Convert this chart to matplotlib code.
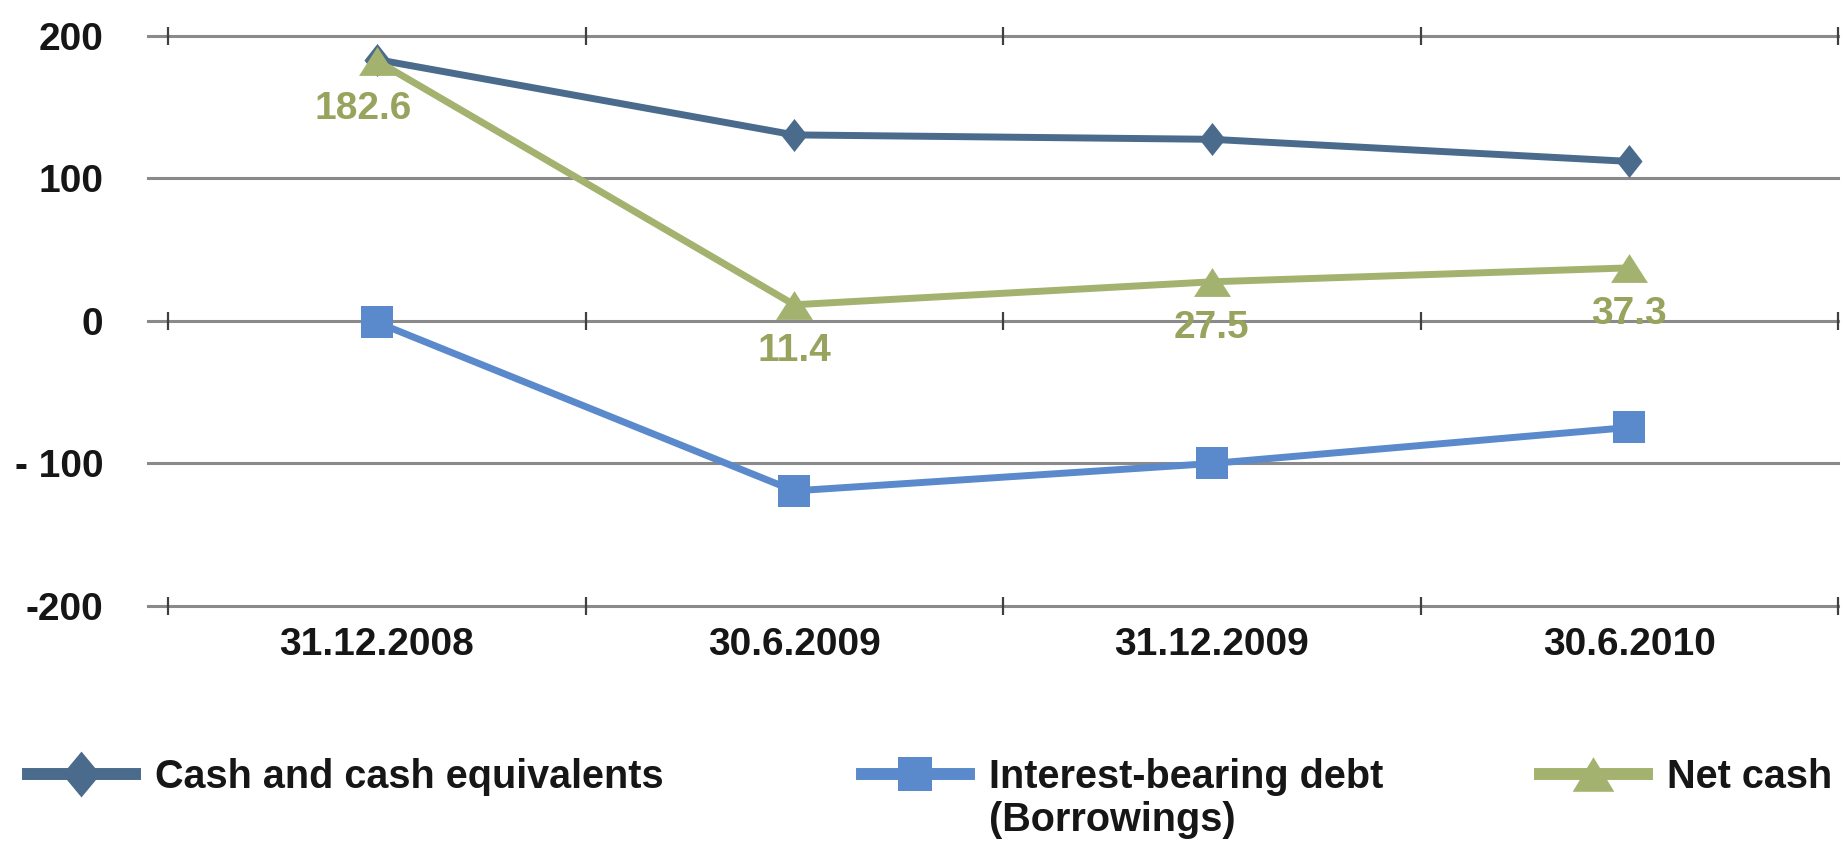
import matplotlib
matplotlib.use("Agg")
import matplotlib.pyplot as plt
from matplotlib.path import Path
from matplotlib.lines import Line2D
import numpy as np

# ---------------- data ----------------
categories = ["31.12.2008", "30.6.2009", "31.12.2009", "30.6.2010"]
cash = [183.5, 130.6, 127.5, 112.0]
debt = [-0.9, -119.2, -100.0, -74.7]
net_cash = [182.6, 11.4, 27.5, 37.3]
net_cash_labels = ["182.6", "11.4", "27.5", "37.3"]
y_ticks = [200, 100, 0, -100, -200]
y_tick_labels = ["200", "100", "0", "- 100", "-200"]
series_names = ["Cash and cash equivalents", "Interest-bearing debt", "Net cash"]
debt_name_line2 = "(Borrowings)"

# ---------------- style ----------------
plt.rcParams["font.family"] = ["Liberation Sans", "DejaVu Sans"]
plt.rcParams["font.weight"] = "bold"
FS = 28
FS_LEG = 28.5
C_CASH = "#4A6B8C"
C_DEBT = "#5A8ACB"
C_NET = "#A3B36F"
C_NET_TXT = "#98A35E"
C_GRID = "#8A8A8A"
C_TXT = "#161616"

diamond = Path([(0, 1), (0.79, 0), (0, -1), (-0.79, 0), (0, 1)],
               [Path.MOVETO, Path.LINETO, Path.LINETO, Path.LINETO, Path.CLOSEPOLY])
diamond_leg = Path([(0, 1), (0.83, 0), (0, -1), (-0.83, 0), (0, 1)],
                   [Path.MOVETO, Path.LINETO, Path.LINETO, Path.LINETO, Path.CLOSEPOLY])
triangle = Path([(-1, -0.78), (1, -0.78), (0, 0.78), (-1, -0.78)],
                [Path.MOVETO, Path.LINETO, Path.LINETO, Path.CLOSEPOLY])
triangle_leg = Path([(-1, -0.83), (1, -0.83), (0, 0.83), (-1, -0.83)],
                    [Path.MOVETO, Path.LINETO, Path.LINETO, Path.CLOSEPOLY])

W, H = 1843, 844
fig = plt.figure(figsize=(W / 100, H / 100), dpi=100)
ax_left, ax_right, ax_top, ax_bot = 148, 1838, 36, 606
ax = fig.add_axes([ax_left / W, (H - ax_bot) / H, (ax_right - ax_left) / W, (ax_bot - ax_top) / H])

x = np.arange(len(categories))
ax.set_xlim(-0.5 - 20 / 417.5, len(categories) - 0.5)
ax.set_ylim(min(y_ticks), max(y_ticks))

# gridlines
for yv in y_ticks:
    ax.axhline(yv, color=C_GRID, lw=2.2, zorder=1, clip_on=False)

# boundary tick marks on 200, 0, -200 lines
bounds = np.arange(len(categories) + 1) - 0.5
for yv in (max(y_ticks), 0, min(y_ticks)):
    ax.vlines(bounds, yv - 6, yv + 6, colors="#404040", lw=1.6, zorder=2, clip_on=False)

# series
lw = 5.0
ax.plot(x, cash, color=C_CASH, lw=lw, marker=diamond, markersize=23.8,
        markeredgewidth=0, zorder=3, clip_on=False)
ax.plot(x, debt, color=C_DEBT, lw=lw, marker="s", markersize=23,
        markeredgewidth=0, zorder=4, clip_on=False)
ax.plot(x, net_cash, color=C_NET, lw=lw, marker=triangle, markersize=26.6,
        markeredgewidth=0, zorder=5, clip_on=False)

# data labels for net cash
label_dx = [-10, 0, 0, 0]
label_dy = [-22, -20, -20, -20]
for xi, yi, lab, dx, dy in zip(x, net_cash, net_cash_labels, label_dx, label_dy):
    ax.annotate(lab, (xi, yi), xytext=(dx, dy), textcoords="offset points",
                ha="center", va="top", fontsize=FS, fontweight="bold",
                color=C_NET_TXT, zorder=6)

# axes formatting
for s in ax.spines.values():
    s.set_visible(False)
ax.set_yticks(y_ticks)
ax.set_yticklabels(y_tick_labels)
ax.set_xticks(x)
ax.set_xticklabels(categories)
ax.tick_params(axis="y", length=0, pad=32, labelsize=FS, labelcolor=C_TXT)
ax.tick_params(axis="x", length=0, pad=15, labelsize=FS, labelcolor=C_TXT)
for t in ax.get_xticklabels() + ax.get_yticklabels():
    t.set_fontweight("bold")

# legend (three separate entries)
handles = [
    Line2D([], [], color=C_CASH, lw=8.6, marker=diamond_leg, markersize=33, markeredgewidth=0),
    Line2D([], [], color=C_DEBT, lw=8.6, marker="s", markersize=24.5, markeredgewidth=0),
    Line2D([], [], color=C_NET, lw=8.6, marker=triangle_leg, markersize=30, markeredgewidth=0),
]
leg_x = [28, 862, 1540]
leg_y = 777
legs = []
for h, name, lx in zip(handles, series_names, leg_x):
    lg = fig.legend([h], [name], loc="center left",
                    bbox_to_anchor=(lx / W, (H - leg_y) / H),
                    frameon=False, borderpad=0, borderaxespad=0,
                    handlelength=2.7, handletextpad=0.5,
                    prop={"size": FS_LEG, "weight": "bold"}, labelcolor=C_TXT)
    legs.append(lg)

fig.canvas.draw()
renderer = fig.canvas.get_renderer()
tb = legs[1].get_texts()[0].get_window_extent(renderer)
fig.text(tb.x0 / W, (tb.y0 - 43) / H, debt_name_line2, ha="left", va="bottom",
         fontsize=FS_LEG, fontweight="bold", color=C_TXT)

fig.savefig("out.png", dpi=100, facecolor="white")
